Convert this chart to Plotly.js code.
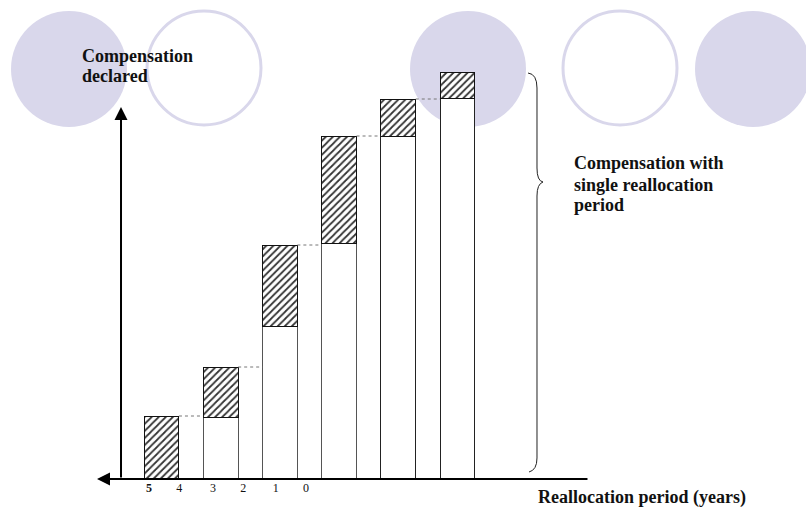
<!DOCTYPE html>
<html>
<head>
<meta charset="utf-8">
<script src="https://cdn.plot.ly/plotly-3.0.1.min.js"></script>
<style>html,body{margin:0;padding:0;background:#fff;}#chart{width:806px;height:509px;}</style>
</head>
<body>
<div id="chart"></div>
<script>
// ---- data ----
const categories = [1, 2, 3, 4, 5, 6];
const baseComp  = [0, 62, 153, 236, 343, 381];   // compensation with single reallocation period (white part)
const extraComp = [63, 50, 81, 107, 37, 26];      // extra compensation declared (hatched part)
const tickPos    = [0.79, 1.30, 1.87, 2.38, 2.93, 3.44];
const tickLabels = ['<b>5</b>', '4', '3', '2', '1', '0'];

// ---- helpers (pixel -> paper) ----
const W = 806, H = 509;
const px = p => p / W;
const py = p => 1 - p / H;
const FONT = "'Liberation Serif', 'Times New Roman', serif";
const barW = 0.59;
const lav = '#d9d7eb';

// white / hatched bars
const tWhite = {
  type: 'bar', x: categories, y: baseComp, width: barW,
  marker: {color: 'white', line: {color: ['#222', '#555', '#555', '#555', '#222', '#222'], width: 1}},
  hoverinfo: 'skip', showlegend: false
};
const tHatch = {
  type: 'bar', x: categories, y: extraComp, width: barW,
  marker: {color: 'white', pattern: {shape: '/', fgcolor: '#333', bgcolor: 'white', size: 5, solidity: 0.35},
           line: {color: '#111', width: 1}},
  hoverinfo: 'skip', showlegend: false
};

// dotted connectors between consecutive bar tops
const totals = baseComp.map((b, i) => b + extraComp[i]);
const shapes = [];
for (let i = 0; i < categories.length - 1; i++) {
  shapes.push({type: 'line', xref: 'x', yref: 'y',
    x0: categories[i] + barW / 2, x1: categories[i + 1] - barW / 2,
    y0: totals[i], y1: totals[i],
    line: {color: '#777', width: 1, dash: 'dot'}});
}
// decorative circles
function circ(cx, cy, r, filled) {
  return {type: 'circle', xref: 'paper', yref: 'paper', layer: 'below',
    x0: px(cx - r), x1: px(cx + r), y0: py(cy + r), y1: py(cy - r),
    fillcolor: filled ? lav : 'rgba(0,0,0,0)',
    line: {color: lav, width: filled ? 0 : 3}};
}
shapes.push(circ(69, 69, 58, true));
shapes.push(circ(204, 68, 57, false));
shapes.push(circ(468, 69, 58, true));
shapes.push(circ(620, 68, 57, false));
shapes.push(circ(753, 69, 58, true));
// brace
const bp = (x, y) => px(x).toFixed(5) + ',' + py(y).toFixed(5);
shapes.push({type: 'path', xref: 'paper', yref: 'paper',
  path: 'M' + bp(528, 73) + ' Q' + bp(537, 74) + ' ' + bp(537, 88) +
        ' L' + bp(537, 168) + ' Q' + bp(537, 181) + ' ' + bp(543, 182) +
        ' Q' + bp(537, 184) + ' ' + bp(537, 196) +
        ' L' + bp(537, 458) + ' Q' + bp(537, 470) + ' ' + bp(529, 472),
  line: {color: '#222', width: 1}});

function lbl(text, x, y, size) {
  return {text: '<b>' + text + '</b>', xref: 'paper', yref: 'paper', x: px(x), y: py(y),
    xanchor: 'left', yanchor: 'middle', showarrow: false,
    font: {family: FONT, size: size || 18, color: '#111'}};
}
const annotations = [
  lbl('Compensation', 80, 56),
  lbl('declared', 80, 76),
  lbl('Compensation with', 572, 163),
  lbl('single reallocation', 572, 185),
  lbl('period', 572, 205),
  lbl('Reallocation period (years)', 536, 497),
  // axis arrows
  {x: 0.316, y: 372, ax: 0.316, ay: 0, xref: 'x', yref: 'y', axref: 'x', ayref: 'y',
   text: '', showarrow: true, arrowhead: 2, arrowsize: 1.3, arrowwidth: 2, arrowcolor: '#000'},
  {x: -0.0895, y: 0, ax: 8.221, ay: 0, xref: 'x', yref: 'y', axref: 'x', ayref: 'y',
   text: '', showarrow: true, arrowhead: 2, arrowsize: 1.3, arrowwidth: 2, arrowcolor: '#000'}
];

const layout = {
  width: W, height: H,
  margin: {l: 0, r: 0, t: 0, b: 0},
  paper_bgcolor: 'white', plot_bgcolor: 'rgba(0,0,0,0)',
  barmode: 'stack', showlegend: false,
  font: {family: FONT, color: '#111'},
  xaxis: {domain: [80 / W, 600 / W], range: [-0.3767, 8.4071], showgrid: false, zeroline: false,
          showline: false, ticks: '', tickmode: 'array', tickvals: tickPos, ticktext: tickLabels,
          tickfont: {family: FONT, size: 12, color: '#111'}, fixedrange: true},
  yaxis: {domain: [30 / H, 480 / H], range: [0, 450], visible: false, fixedrange: true},
  shapes: shapes,
  annotations: annotations
};
Plotly.newPlot('chart', [tWhite, tHatch], layout, {staticPlot: true, displayModeBar: false});
</script>
</body>
</html>
